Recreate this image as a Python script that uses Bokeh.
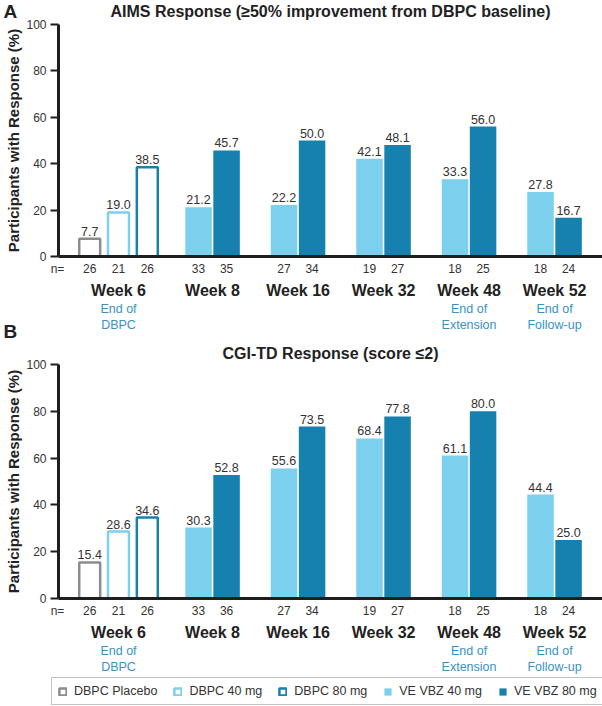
import math
from bokeh.plotting import figure
from bokeh.models import (Range1d, Legend, LegendItem, FixedTicker, LinearAxis)
from bokeh.embed import file_html
from bokeh.resources import INLINE
from bokeh.core.properties import value

# ---------------- data ----------------
weeks = ["Week 6", "Week 8", "Week 16", "Week 32", "Week 48", "Week 52"]
sub_line1 = ["End of", "", "", "", "End of", "End of"]
sub_line2 = ["DBPC", "", "", "", "Extension", "Follow-up"]
group_x = [0.0, 1.1, 2.1, 3.1, 4.1, 5.1]

series_names = ["DBPC Placebo", "DBPC 40 mg", "DBPC 80 mg", "VE VBZ 40 mg", "VE VBZ 80 mg"]

# Panel A: AIMS response
aims_placebo = [7.7]
aims_dbpc40 = [19.0]
aims_dbpc80 = [38.5]
aims_ve40 = [21.2, 22.2, 42.1, 33.3, 27.8]
aims_ve80 = [45.7, 50.0, 48.1, 56.0, 16.7]
aims_n_dbpc = [26, 21, 26]
aims_n_ve40 = [33, 27, 19, 18, 18]
aims_n_ve80 = [35, 34, 27, 25, 24]

# Panel B: CGI-TD response
cgi_placebo = [15.4]
cgi_dbpc40 = [28.6]
cgi_dbpc80 = [34.6]
cgi_ve40 = [30.3, 55.6, 68.4, 61.1, 44.4]
cgi_ve80 = [52.8, 73.5, 77.8, 80.0, 25.0]
cgi_n_dbpc = [26, 21, 26]
cgi_n_ve40 = [33, 27, 19, 18, 18]
cgi_n_ve80 = [36, 34, 27, 25, 24]

y_ticks = [0, 20, 40, 60, 80, 100]
y_title = "Participants with Response (%)"

# ---------------- style / layout ----------------
FONT = "Liberation Sans"
GREY = "#8c8c8c"
LIGHT = "#7dcfee"
DARK = "#1680ae"
SUBBLUE = "#3a91c5"
TXT = "#222222"
LBL = "#333333"
AXC = "#1e1e1e"

W, H = 602, 706
PAGE_L, PAGE_T = 0, 0
PX_PER_GROUP = 85.5
G0_PX = 118.0          # page x of first group centre
AXIS_PX = 58           # page x of the y axis line


def xd(px):
    return (px - G0_PX) / PX_PER_GROUP


def y_range_for(zero_px, hundred_px):
    s = (zero_px - hundred_px) / 100.0
    return Range1d(-(PAGE_T + H - zero_px) / s, (zero_px - PAGE_T) / s), s


PANELS = {
    "A": dict(zero=256, hundred=24),
    "B": dict(zero=598, hundred=364),
}
rA, sA = y_range_for(PANELS["A"]["zero"], PANELS["A"]["hundred"])
rB, sB = y_range_for(PANELS["B"]["zero"], PANELS["B"]["hundred"])
PANELS["A"]["s"] = sA
PANELS["B"]["s"] = sB

p = figure(width=W, height=H, output_backend="svg", toolbar_location=None,
           x_range=Range1d(xd(PAGE_L), xd(PAGE_L + W)), y_range=rB,
           x_axis_location=None, y_axis_location=None,
           min_border=0, min_border_left=0, min_border_right=0,
           min_border_top=0, min_border_bottom=0)
p.extra_y_ranges = {"A": rA}
p.outline_line_color = None
p.xgrid.visible = False
p.ygrid.visible = False


def txt(x, y, text, rn, size="12px", color=LBL, style="normal", align="center",
        baseline="middle", yoff=0, angle=0.0):
    return p.text(x=x, y=y, text=text, y_range_name=rn, text_align=align,
                  text_baseline=baseline, y_offset=yoff, text_font=value(FONT),
                  text_font_size=size, text_color=color, text_font_style=style,
                  angle=angle)


def panel(key, letter, title, title_px, letter_px, placebo, d40, d80, v40, v80,
          n_dbpc, n_v40, n_v80):
    rn = "A" if key == "A" else "default"
    zero = PANELS[key]["zero"]
    hundred = PANELS[key]["hundred"]
    s = PANELS[key]["s"]

    def yd(py):
        return (zero - py) / s

    off6 = 0.337
    offv = 0.164
    g0 = group_x[0]
    x_pl = [g0 - off6]
    x_40 = [g0]
    x_80 = [g0 + off6]
    x_v40 = [g - offv for g in group_x[1:]]
    x_v80 = [g + offv for g in group_x[1:]]

    ow = 0.245
    vw = 0.31
    r_pl = p.vbar(x=x_pl, top=placebo, width=ow, bottom=0, y_range_name=rn,
                  fill_color="white", line_color=GREY, line_width=2.5)
    r_40 = p.vbar(x=x_40, top=d40, width=ow, bottom=0, y_range_name=rn,
                  fill_color="white", line_color=LIGHT, line_width=2.5)
    r_80 = p.vbar(x=x_80, top=d80, width=ow, bottom=0, y_range_name=rn,
                  fill_color="white", line_color=DARK, line_width=2.5)
    r_v40 = p.vbar(x=x_v40, top=v40, width=vw, bottom=0, y_range_name=rn,
                   fill_color=LIGHT, line_color=None)
    r_v80 = p.vbar(x=x_v80, top=v80, width=vw, bottom=0, y_range_name=rn,
                   fill_color=DARK, line_color=None)

    all_x = x_pl + x_40 + x_80 + x_v40 + x_v80
    all_v = placebo + d40 + d80 + v40 + v80
    all_n = n_dbpc + n_v40 + n_v80
    txt(all_x, all_v, [f"{v:.1f}" for v in all_v], rn, size="12.5px",
        baseline="bottom", yoff=-3)

    # n row, week labels, sub-labels
    txt(all_x, [yd(zero + 12)] * len(all_x), [str(n) for n in all_n], rn)
    txt([xd(57)], [yd(zero + 12)], ["n="], rn)
    txt(group_x, [yd(zero + 34)] * len(group_x), weeks, rn, size="16px",
        color=TXT, style="bold")
    txt(group_x, [yd(zero + 52)] * len(group_x), sub_line1, rn, size="12.5px",
        color=SUBBLUE)
    txt(group_x, [yd(zero + 68)] * len(group_x), sub_line2, rn, size="12.5px",
        color=SUBBLUE)

    # title, panel letter, y title
    txt([xd(330)], [yd(title_px)], [title], rn, size="16px", color=TXT, style="bold")
    txt([xd(3)], [yd(letter_px)], [letter], rn, size="19px", color=TXT,
        style="bold", align="left")
    txt([xd(13)], [yd((zero + hundred) / 2)], [y_title], rn, size="15px", color=TXT,
        style="bold", angle=math.pi / 2)

    # axes
    yax = LinearAxis(y_range_name=rn, fixed_location=xd(AXIS_PX), bounds=(0, 100),
                     ticker=FixedTicker(ticks=y_ticks))
    yax.minor_tick_line_color = None
    yax.major_tick_out = 8
    yax.major_tick_in = 0
    yax.major_tick_line_width = 2
    yax.major_tick_line_color = AXC
    yax.axis_line_width = 3
    yax.axis_line_color = AXC
    yax.major_label_text_font = FONT
    yax.major_label_text_font_size = "12px"
    yax.major_label_text_color = LBL
    yax.major_label_standoff = 4
    p.add_layout(yax, "left")

    xax = LinearAxis(y_range_name=rn, fixed_location=0,
                     bounds=(xd(AXIS_PX), xd(PAGE_L + W)),
                     ticker=FixedTicker(ticks=[]))
    xax.major_label_text_font_size = "0px"
    xax.major_tick_line_color = None
    xax.minor_tick_line_color = None
    xax.axis_line_width = 3
    xax.axis_line_color = AXC
    p.add_layout(xax, "below")

    return [r_pl, r_40, r_80, r_v40, r_v80]


panel("A", "A", "AIMS Response (\u226550% improvement from DBPC baseline)", 11, 11,
      aims_placebo, aims_dbpc40, aims_dbpc80, aims_ve40, aims_ve80,
      aims_n_dbpc, aims_n_ve40, aims_n_ve80)
rends = panel("B", "B", "CGI-TD Response (score \u22642)", 353, 331,
              cgi_placebo, cgi_dbpc40, cgi_dbpc80, cgi_ve40, cgi_ve80,
              cgi_n_dbpc, cgi_n_ve40, cgi_n_ve80)

items = [LegendItem(label=name, renderers=[r]) for name, r in zip(series_names, rends)]
leg = Legend(items=items, orientation="horizontal", location=(51, 1),
             border_line_color="#8a8a8a", border_line_width=1,
             label_text_font=FONT, label_text_font_size="12.5px",
             label_text_color=LBL, glyph_width=9, glyph_height=9,
             label_height=13, label_standoff=7, spacing=16, padding=6,
             margin=0, background_fill_alpha=1.0)
p.add_layout(leg)

open("out.html", "w").write(file_html(p, INLINE))
